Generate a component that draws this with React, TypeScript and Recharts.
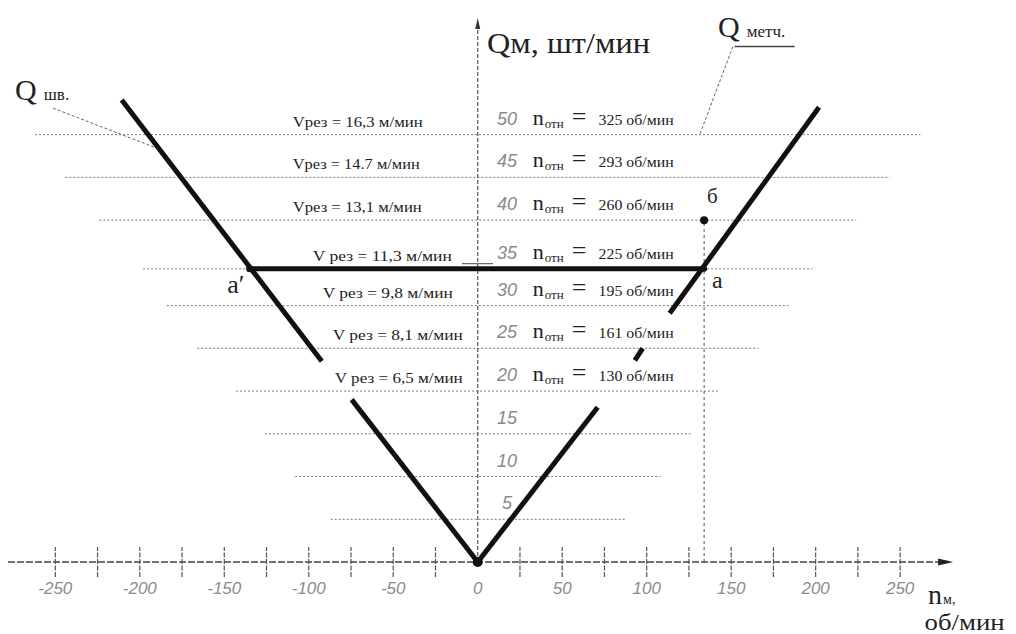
import React from 'react'
import { ComposedChart, Line, XAxis, YAxis, ReferenceLine, ReferenceDot } from 'recharts'

// n_м, об/мин (x)  vs  Q_м, шт/мин (y)
const xTicks = [-250, -200, -150, -100, -50, 0, 50, 100, 150, 200, 250]
const xMinorTicks = [
  -250, -225, -200, -175, -150, -125, -100, -75, -50, -25,
  25, 50, 75, 100, 125, 150, 175, 200, 225, 250,
]
const qTicks = [5, 10, 15, 20, 25, 30, 35, 40, 45, 50]
// dotted guide levels as drawn (the "35" guide lies on the a′–a line)
const guideLevels = [5, 10, 15, 20, 25, 30, 34.3, 40, 45, 50]
const guideHalfSpan = [87, 108, 126, 143, 166, 184, 198, 224, 244, 262]

// rows of speed labels, top to bottom
const rowLevels = [50, 45, 40, 34.3, 30, 25, 20]
const vRez = ['16,3', '14.7', '13,1', '11,3', '9,8', '8,1', '6,5']
const nOtn = [325, 293, 260, 225, 195, 161, 130]

// Q шв. (left branch) and Q метч. (right branch), drawn with gaps
const qShvLow = [{ n: 0, q: 0 }, { n: -74.6, q: 19 }]
const qShvHigh = [{ n: -92.3, q: 23.5 }, { n: -210.7, q: 54.05 }]
const qMechLow = [{ n: 0, q: 0 }, { n: 71, q: 18.1 }]
const qMechMid = [{ n: 93, q: 23.6 }, { n: 97.6, q: 25 }]
const qMechHigh = [{ n: 113.6, q: 29.1 }, { n: 202, q: 53.2 }]
const workLine = [{ n: -135, q: 34.3 }, { n: 134, q: 34.3 }]
const pointA1 = { n: -135, q: 34.3 }
const pointA = { n: 134, q: 34.3 }
const pointB = { n: 134, q: 40 }

const serif = "'Liberation Serif', 'DejaVu Serif', serif"
const sans = "'Liberation Sans', 'DejaVu Sans', sans-serif"
const ink = '#222'

// left edge (in n units) and width of the V-рез labels
const vLabelLeft = [-109.5, -109.5, -109.5, -97.6, -91.7, -85.8, -84.6]
const vLabelWidth = [130, 127, 129, 139, 130, 130, 128]

type Pt = { cx?: number; cy?: number }
const at = (draw: (x: number, y: number) => React.ReactElement) => (p: Pt) =>
  draw(p.cx ?? 0, p.cy ?? 0)

const seg = (data: { n: number; q: number }[], key: string) => (
  <Line
    key={key}
    data={data}
    dataKey="q"
    type="linear"
    stroke="#111"
    strokeWidth={5}
    dot={false}
    activeDot={false}
    legendType="none"
    isAnimationActive={false}
  />
)

export default function App() {
  return (
    <ComposedChart
      width={1000}
      height={626}
      margin={{ top: 7, right: 20, bottom: 32, left: 0 }}
    >
      <XAxis
        type="number"
        dataKey="n"
        domain={[-278, 302]}
        ticks={xTicks}
        interval={0}
        allowDataOverflow
        axisLine={false}
        tickLine={false}
        tickSize={20}
        tickMargin={0}
        height={40}
        tick={{ fontSize: 17, fontStyle: 'italic', fill: '#8c8c8c', fontFamily: sans }}
      />
      <YAxis type="number" domain={[0, 64]} hide allowDataOverflow />

      {guideLevels.map((lvl, i) => (
        <ReferenceLine
          key={'g' + i}
          segment={[{ x: -guideHalfSpan[i], y: lvl }, { x: guideHalfSpan[i], y: lvl }]}
          stroke="#777"
          strokeWidth={1}
          strokeDasharray="2 2"
        />
      ))}

      {/* axes */}
      <ReferenceLine
        segment={[{ x: -278, y: 0 }, { x: 276, y: 0 }]}
        stroke="#444"
        strokeWidth={1.5}
        strokeDasharray="7 2"
        ifOverflow="visible"
      />
      <ReferenceLine
        segment={[{ x: 0, y: 0 }, { x: 0, y: 62.5 }]}
        stroke="#555"
        strokeWidth={1.2}
        strokeDasharray="4 2"
      />
      {xMinorTicks.map((t) => (
        <ReferenceLine
          key={'t' + t}
          segment={[{ x: t, y: -1.75 }, { x: t, y: 1.75 }]}
          stroke="#555"
          strokeWidth={1.2}
          strokeDasharray="5 1.5"
          ifOverflow="visible"
        />
      ))}
      <ReferenceDot
        x={279}
        y={0}
        r={1}
        ifOverflow="visible"
        shape={at((x, y) => (
          <path d={`M${x + 4},${y} L${x - 11},${y - 3.5} L${x - 11},${y + 3.5} Z`} fill="#222" />
        ))}
      />
      <ReferenceDot
        x={0}
        y={63.3}
        r={1}
        ifOverflow="visible"
        shape={at((x, y) => (
          <path d={`M${x},${y - 3} L${x - 2.5},${y + 8} L${x + 2.5},${y + 8} Z`} fill="#333" />
        ))}
      />

      {/* b vertical and leaders */}
      <ReferenceLine
        segment={[{ x: pointB.n, y: 0 }, { x: pointB.n, y: pointB.q }]}
        stroke="#555"
        strokeWidth={1}
        strokeDasharray="3 3"
      />
      <ReferenceLine
        segment={[{ x: -251.3, y: 53.1 }, { x: -189.7, y: 48.4 }]}
        stroke="#666"
        strokeWidth={1}
        strokeDasharray="3 2"
      />
      <ReferenceLine
        segment={[{ x: 151, y: 60.3 }, { x: 131.4, y: 50 }]}
        stroke="#666"
        strokeWidth={1}
        strokeDasharray="3 2"
      />
      <ReferenceLine
        segment={[{ x: 152, y: 60.3 }, { x: 187.6, y: 60.3 }]}
        stroke="#444"
        strokeWidth={1.5}
      />
      <ReferenceLine
        segment={[{ x: -9.3, y: 34.9 }, { x: 9, y: 34.9 }]}
        stroke="#444"
        strokeWidth={1}
      />

      {seg(qShvLow, 'l1')}
      {seg(qShvHigh, 'l2')}
      {seg(qMechLow, 'r1')}
      {seg(qMechMid, 'r2')}
      {seg(qMechHigh, 'r3')}
      {seg(workLine, 'w')}

      <ReferenceDot x={0} y={0} r={5} fill="#111" stroke="none" />
      <ReferenceDot x={pointA1.n} y={pointA1.q} r={3.5} fill="#111" stroke="none" />
      <ReferenceDot x={pointA.n} y={pointA.q} r={3} fill="#111" stroke="none" />
      <ReferenceDot x={pointB.n} y={pointB.q} r={4} fill="#111" stroke="none" />

      {/* Q tick numbers */}
      {qTicks.map((q, i) => (
        <ReferenceDot
          key={'q' + q}
          x={17.3}
          y={guideLevels[i]}
          r={1}
          shape={at((x, y) => (
            <text x={x} y={y - 10} textAnchor="middle" fontSize={18} fontStyle="italic"
              fontFamily={sans} fill="#8a8a8a">
              {q}
            </text>
          ))}
        />
      ))}

      {/* V рез labels */}
      {vRez.map((v, i) => (
        <ReferenceDot
          key={'v' + i}
          x={vLabelLeft[i]}
          y={rowLevels[i]}
          r={1}
          shape={at((x, y) => (
            <text x={x} y={y - 8} fontSize={15} fontFamily={serif} fill={ink}
              textLength={vLabelWidth[i]} lengthAdjust="spacingAndGlyphs">
              {(i < 3 ? 'Vрез' : 'V рез') + ' = ' + v + ' м/мин'}
            </text>
          ))}
        />
      ))}

      {/* n отн labels */}
      {nOtn.map((v, i) => (
        <ReferenceDot
          key={'n' + i}
          x={32.5}
          y={rowLevels[i]}
          r={1}
          shape={at((x, y) => (
            <text y={y - 10} fontFamily={serif} fill={ink}>
              <tspan x={x} fontSize={22}>n</tspan>
              <tspan x={x + 12} dy={3} fontSize={13}>отн</tspan>
              <tspan x={x + 39} dy={-3} fontSize={26}>=</tspan>
              <tspan x={x + 66} fontSize={14} textLength={75} lengthAdjust="spacingAndGlyphs">
                {v + ' об/мин'}
              </tspan>
            </text>
          ))}
        />
      ))}

      {/* titles and point names */}
      <ReferenceDot x={5.5} y={59.55} r={1} ifOverflow="visible"
        shape={at((x, y) => (
          <text x={x} y={y} fontSize={30} fontFamily={serif} fill={ink}
            textLength={163} lengthAdjust="spacingAndGlyphs">
            Qм, шт/мин
          </text>
        ))}
      />
      <ReferenceDot x={142.2} y={61.4} r={1} ifOverflow="visible"
        shape={at((x, y) => (
          <text x={x} y={y} fontFamily={serif} fill={ink}>
            <tspan fontSize={30}>Q</tspan>
            <tspan dx={7} fontSize={17}>метч.</tspan>
          </text>
        ))}
      />
      <ReferenceDot x={-273.8} y={54.05} r={1} ifOverflow="visible"
        shape={at((x, y) => (
          <text x={x} y={y} fontFamily={serif} fill={ink}>
            <tspan fontSize={30}>Q</tspan>
            <tspan dx={7} fontSize={17}>шв.</tspan>
          </text>
        ))}
      />
      <ReferenceDot x={266.5} y={-4.9} r={1} ifOverflow="visible"
        shape={at((x, y) => (
          <text x={x} y={y} fontFamily={serif} fill={ink}>
            <tspan fontSize={28}>n</tspan>
            <tspan dx={1} fontSize={14}>м,</tspan>
          </text>
        ))}
      />
      <ReferenceDot x={264.5} y={-8.0} r={1} ifOverflow="visible"
        shape={at((x, y) => (
          <text x={x} y={y} fontSize={24} fontFamily={serif} fill={ink}
            textLength={80} lengthAdjust="spacingAndGlyphs">
            об/мин
          </text>
        ))}
      />
      <ReferenceDot x={-148.3} y={31.5} r={1}
        shape={at((x, y) => (
          <text x={x} y={y} fontSize={26} fontFamily={serif} fill={ink}>a′</text>
        ))}
      />
      <ReferenceDot x={138.6} y={32.1} r={1}
        shape={at((x, y) => (
          <text x={x} y={y} fontSize={24} fontFamily={serif} fill={ink}>a</text>
        ))}
      />
      <ReferenceDot x={135.7} y={42} r={1}
        shape={at((x, y) => (
          <text x={x} y={y} fontSize={21} fontFamily={serif} fill={ink}>б</text>
        ))}
      />
    </ComposedChart>
  )
}
